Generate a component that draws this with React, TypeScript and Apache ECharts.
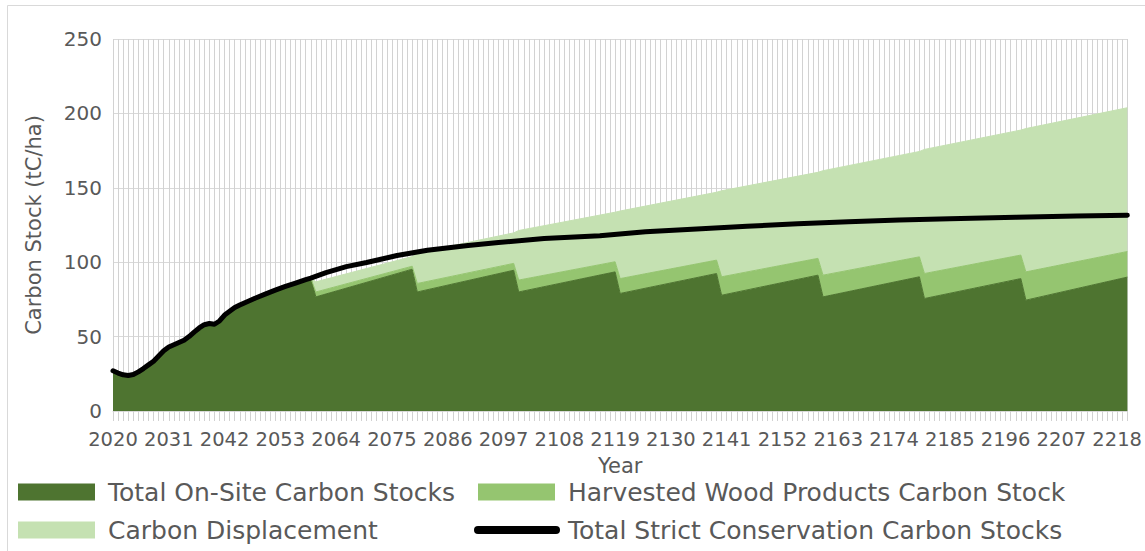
import React, { useEffect, useRef } from "react";
import * as echarts from "echarts";

// ---- Categories (years) ----
const firstYear = 2020;
const lastYear = 2220;
const categories: string[] = [];
for (let y = firstYear; y <= lastYear; y++) categories.push(String(y));

// ---- Strict conservation line (tC/ha), read at key years ----
const conservationYears = [
  2020, 2021, 2022, 2023, 2024, 2025, 2026, 2027, 2028, 2029, 2030, 2031, 2032, 2033,
  2034, 2035, 2036, 2037, 2038, 2039, 2040, 2041, 2042, 2043, 2044, 2045, 2046, 2048,
  2050, 2052, 2054, 2056, 2058, 2059, 2062, 2066, 2070, 2076, 2082, 2090, 2096, 2105,
  2116, 2125, 2136, 2145, 2155, 2165, 2175, 2185, 2198, 2210, 2220,
];
const conservation = [
  27.0, 25.5, 24.3, 23.9, 24.5, 26.3, 28.5, 31.0, 33.5, 37.0, 40.5, 43.0, 44.5, 46.0,
  47.5, 50.0, 53.0, 55.8, 58.0, 58.8, 58.3, 60.5, 64.5, 67.0, 69.5, 71.2, 72.8, 75.8,
  78.5, 81.2, 83.7, 86.0, 88.3, 89.3, 93.0, 97.0, 99.8, 104.5, 108.0, 111.2, 113.2, 116.0,
  117.8, 120.5, 122.4, 124.2, 125.8, 127.2, 128.3, 129.2, 130.2, 131.0, 131.5,
];

// ---- Managed scenario: on-site stock, read at key years ----
const onSiteYears = [
  2020, 2021, 2022, 2023, 2024, 2025, 2026, 2027, 2028, 2029, 2030, 2031, 2032, 2033,
  2034, 2035, 2036, 2037, 2038, 2039, 2040, 2041, 2042, 2043, 2044, 2045, 2046, 2048,
  2050, 2052, 2054, 2056, 2058,
  2059, 2060, 2079, 2080, 2099, 2100, 2119, 2120, 2139, 2140, 2159, 2160, 2179, 2180,
  2199, 2200, 2220,
];
const onSite = [
  27.0, 25.5, 24.3, 23.9, 24.5, 26.3, 28.5, 31.0, 33.5, 37.0, 40.5, 43.0, 44.5, 46.0,
  47.5, 50.0, 53.0, 55.8, 58.0, 58.8, 58.3, 60.5, 64.5, 67.0, 69.5, 71.2, 72.8, 75.8,
  78.5, 81.2, 83.7, 86.0, 88.3,
  89.3, 76.7, 95.3, 80.0, 94.6, 80.0, 93.5, 79.0, 92.4, 77.8, 91.3, 76.7, 90.2, 75.6,
  89.0, 74.5, 90.0,
];

// ---- Harvest rotation years (harvest year, following year) ----
const rotationYears = [
  2059, 2060, 2079, 2080, 2099, 2100, 2119, 2120, 2139, 2140, 2159, 2160, 2179, 2180,
  2199, 2200, 2220,
];
const hwp = [
  0, 3.3, 2.0, 5.7, 4.6, 8.0, 6.8, 10.0, 9.0, 12.4, 11.3, 14.6, 13.4, 16.8, 15.8, 19.0, 17.2,
];
const displacement = [
  0, 6.8, 6.5, 20.5, 20.5, 33.3, 33.3, 45.4, 45.6, 57.8, 57.8, 70.2, 70.8, 83.4, 84.0, 96.3, 96.6,
];

const yTicks = { min: 0, max: 250, interval: 50 };

const DARK = "#4E7430";
const MID = "#95C570";
const LIGHT = "#C5E1B2";
const GRID = "#D9D9D9";
const VGRID = "#D2D2D2";
const TEXT = "#595959";
const FONT = "DejaVu Sans";

const pair = (years: number[], values: number[]) =>
  years.map((y, i) => [String(y), values[i]]);

export default function App() {
  const ref = useRef<HTMLDivElement>(null);

  useEffect(() => {
    if (!ref.current) return;
    const chart = echarts.init(ref.current, undefined, { renderer: "svg" });

    const legendBase = {
      padding: 0,
      itemGap: 0,
      selectedMode: false,
      icon: "rect",
      itemWidth: 77,
      itemHeight: 17,
      itemStyle: { borderWidth: 0 },
      textStyle: {
        color: TEXT,
        fontSize: 25,
        fontFamily: FONT,
        lineHeight: 26,
        padding: [0, 0, 0, 8],
      },
    };

    chart.setOption({
      animation: false,
      backgroundColor: "#ffffff",
      textStyle: { fontFamily: FONT },
      grid: { left: 113, right: 17, top: 39, bottom: 140, containLabel: false },
      graphic: [
        {
          type: "rect",
          silent: true,
          shape: { x: 7.5, y: 5.5, width: 1300, height: 700 },
          style: { fill: "none", stroke: GRID, lineWidth: 1 },
        },
      ],
      xAxis: {
        type: "category",
        data: categories,
        boundaryGap: false,
        name: "Year",
        nameLocation: "middle",
        nameGap: 44,
        nameTextStyle: { color: TEXT, fontSize: 21, fontFamily: FONT },
        axisLine: { show: true, lineStyle: { color: GRID, width: 1 } },
        axisTick: { show: true, interval: 0, length: 10, lineStyle: { color: VGRID } },
        splitLine: { show: true, interval: 0, lineStyle: { color: VGRID, width: 1 } },
        axisLabel: {
          interval: 10,
          color: TEXT,
          fontSize: 19.5,
          fontFamily: FONT,
          margin: 18,
        },
      },
      yAxis: {
        type: "value",
        min: yTicks.min,
        max: yTicks.max,
        interval: yTicks.interval,
        name: "Carbon Stock (tC/ha)",
        nameLocation: "middle",
        nameGap: 69,
        nameTextStyle: { color: TEXT, fontSize: 21, fontFamily: FONT },
        axisLine: { show: false },
        axisTick: { show: false },
        splitLine: { show: true, lineStyle: { color: GRID, width: 1 } },
        axisLabel: { color: TEXT, fontSize: 20, fontFamily: FONT, margin: 11 },
      },
      legend: [
        { ...legendBase, data: ["Total On-Site Carbon Stocks"], left: 18, top: 479 },
        { ...legendBase, data: ["Harvested Wood Products Carbon Stock"], left: 478, top: 479 },
        { ...legendBase, data: ["Carbon Displacement"], left: 18, top: 517 },
        {
          ...legendBase,
          data: [
            {
              name: "Total Strict Conservation Carbon Stocks",
              icon: "path://M4,0 L82,0 A4,4 0 0 1 82,8 L4,8 A4,4 0 0 1 4,0 Z",
            },
          ],
          itemWidth: 86,
          itemHeight: 8,
          left: 474,
          top: 517,
          textStyle: { ...legendBase.textStyle, padding: [0, 0, 0, 3] },
        },
      ],
      series: [
        {
          name: "Total On-Site Carbon Stocks",
          type: "line",
          stack: "managed",
          data: pair(onSiteYears, onSite),
          symbol: "none",
          color: DARK,
          itemStyle: { color: DARK },
          lineStyle: { width: 1, color: DARK },
          areaStyle: { color: DARK, opacity: 1 },
          z: 2,
        },
        {
          name: "Harvested Wood Products Carbon Stock",
          type: "line",
          stack: "managed",
          data: pair(rotationYears, hwp),
          symbol: "none",
          color: MID,
          itemStyle: { color: MID },
          lineStyle: { width: 1, color: MID },
          areaStyle: { color: MID, opacity: 1 },
          z: 2,
        },
        {
          name: "Carbon Displacement",
          type: "line",
          stack: "managed",
          data: pair(rotationYears, displacement),
          symbol: "none",
          color: LIGHT,
          itemStyle: { color: LIGHT },
          lineStyle: { width: 1, color: LIGHT },
          areaStyle: { color: LIGHT, opacity: 1 },
          z: 2,
        },
        {
          name: "Total Strict Conservation Carbon Stocks",
          type: "line",
          data: pair(conservationYears, conservation),
          symbol: "none",
          color: "#000000",
          itemStyle: { color: "#000000" },
          lineStyle: { color: "#000000", width: 5, cap: "round", join: "round" },
          z: 5,
        },
      ],
    });

    return () => chart.dispose();
  }, []);

  return (
    <div
      ref={ref}
      style={{
        position: "fixed",
        left: 0,
        top: 0,
        width: 1145,
        height: 551,
        background: "#ffffff",
      }}
    />
  );
}
